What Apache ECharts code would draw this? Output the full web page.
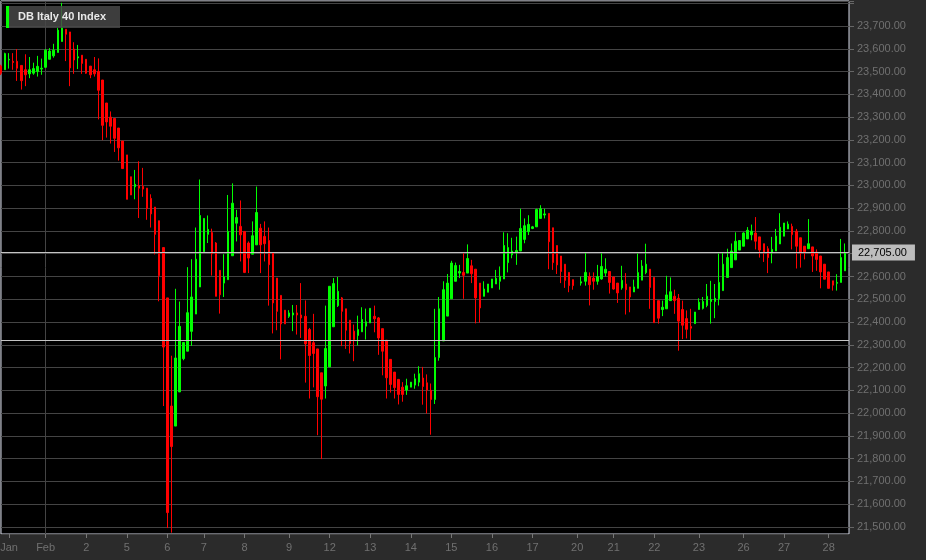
<!DOCTYPE html>
<html>
<head>
<meta charset="utf-8">
<script src="https://cdn.jsdelivr.net/npm/echarts@6/dist/echarts.min.js"></script>
<style>
html,body{margin:0;padding:0;background:#2b2b2b;}
#c{width:926px;height:560px;}
</style>
</head>
<body>
<div id="c"></div>
<script>
// ---- data (hourly candles, DB Italy 40 Index) ----
const seriesName = 'DB Italy 40 Index';
const open = [
23524,23508,23551,23545,23545,23527,23508,23490,23493,23500,23511,23519,23554,23569,23584,23632,23686,23674,23599,23560,
23572,23554,23524,23508,23501,23463,23362,23300,23294,23252,23195,23134,23038,22994,22999,22996,22988,22943,22905,22845,
22727,22506,22031,21943,22093,22239,22272,22359,22435,22554,22709,22785,22793,22747,22627,22571,22586,22691,22834,22820,
22798,22747,22698,22739,22812,22776,22758,22703,22593,22517,22452,22425,22431,22440,22431,22425,22367,22309,22282,22177,
22119,22203,22379,22472,22506,22458,22408,22360,22341,22357,22382,22396,22425,22418,22371,22320,22236,22180,22148,22114,
22101,22114,22123,22136,22154,22133,22100,22060,22244,22317,22426,22502,22579,22615,22618,22615,22647,22632,22571,22513,
22531,22550,22567,22579,22589,22661,22695,22706,22712,22763,22797,22811,22818,22855,22870,22877,22814,22736,22690,22654,
22618,22586,null,22571,22579,22600,22593,22579,22589,22615,22622,22598,22571,22550,22567,22554,22532,22548,22584,22617,
22632,22596,22494,22455,22458,22494,22513,22504,22455,22415,22380,22393,22455,22460,22473,22490,22490,22502,22538,22596,
22639,22673,22716,22733,22765,22783,22791,22774,22744,22722,22704,22712,22743,22777,22809,22820,22799,22770,22733,22722,
22730,22707,22690,22654,22620,22581,22570,22574,22625];
const close = [
23493,23579,23554,23540,23515,23460,23486,23508,23513,23523,23515,23594,23590,23594,23682,23692,23664,23516,23551,23565,
23536,23493,23486,23490,23418,23264,23279,23260,23207,23165,23074,22939,22958,23005,22988,22984,22898,22875,22785,22604,
22290,21563,21853,22242,22381,22310,22441,22510,22676,22868,22855,22807,22700,22513,22520,22598,22798,22922,22859,22783,
22618,22681,22779,22881,22739,22744,22652,22484,22447,22392,22392,22440,22440,22431,22418,22304,22253,22262,22072,22061,
22284,22557,22569,22535,22447,22364,22306,22323,22367,22411,22401,22460,22414,22330,22272,22155,22126,22112,22082,22082,
22120,22136,22151,22173,22117,22101,22060,22244,22458,22542,22571,22659,22648,22622,22605,22679,22612,22506,22462,22545,
22567,22589,22592,22601,22736,22727,22712,22714,22811,22823,22829,22818,22894,22898,22875,22753,22661,22651,22622,22583,
22560,22560,null,22577,22618,22564,22579,22600,22644,22632,22574,22545,22528,22583,22542,22510,22554,22617,22646,22654,
22552,22397,22417,22465,22519,22533,22494,22404,22386,22368,22373,22444,22487,22490,22513,22499,22504,22574,22654,22683,
22712,22755,22758,22791,22803,22799,22755,22716,22707,22683,22719,22777,22816,22835,22830,22784,22733,22704,22707,22744,
22690,22675,22620,22588,22548,22562,22574,22683,22705];
const low = [
23485,23508,23513,23508,23459,23421,23436,23471,23486,23478,23486,23516,23554,23561,23584,23632,23546,23436,23490,23511,
23490,23490,23471,23478,23290,23199,23210,23184,23147,23109,23074,22939,22958,22939,22857,22950,22849,22815,22697,22491,
22031,21495,21475,21943,22093,22232,22272,22295,22435,22554,22709,22747,22604,22513,22437,22510,22586,22691,22754,22666,
22615,22615,22698,22739,22615,22666,22472,22350,22364,22236,22392,22418,22360,22345,22330,22134,22064,22113,21903,21798,
22064,22203,22379,22466,22294,22282,22262,22228,22297,22357,22323,22396,22355,22256,22166,22064,22090,22064,22038,22050,
22080,22114,22107,22118,22037,21998,21905,22040,22230,22317,22426,22502,22579,22593,22502,22615,22571,22394,22397,22513,
22531,22550,22567,22542,22589,22618,22680,22651,22712,22746,22782,22808,22818,22855,22855,22632,22629,22611,22571,22550,
22531,22542,null,22560,22560,22473,22542,22564,22586,22600,22525,22542,22484,22542,22433,22443,22532,22548,22584,22610,
22458,22397,22393,22426,22458,22494,22436,22274,22325,22328,22320,22393,22455,22455,22465,22393,22417,22473,22538,22596,
22639,22673,22716,22733,22765,22759,22719,22683,22664,22615,22658,22712,22743,22777,22809,22719,22635,22639,22675,22722,
22620,22625,22548,22588,22548,22538,22538,22574,22625];
const high = [
23530,23583,23581,23581,23599,23527,23576,23564,23539,23569,23557,23599,23603,23622,23692,23802,23686,23674,23629,23617,
23572,23554,23524,23564,23558,23463,23362,23325,23294,23252,23195,23134,23038,23068,23106,23077,22988,22961,22905,22845,
22727,22506,22252,22546,22490,22310,22641,22676,22815,23026,22855,22868,22810,22751,22627,22698,22958,23009,22893,22934,
22798,22754,22842,22995,22831,22842,22815,22703,22593,22517,22452,22452,22475,22475,22571,22495,22374,22436,22282,22177,
22472,22557,22593,22598,22510,22458,22408,22389,22428,22465,22459,22460,22472,22422,22371,22320,22236,22180,22148,22136,
22151,22136,22173,22206,22203,22170,22130,22458,22510,22579,22611,22669,22661,22651,22702,22741,22673,22632,22571,22579,
22567,22589,22629,22644,22794,22790,22770,22775,22898,22855,22869,22822,22898,22913,22898,22877,22814,22736,22690,22654,
22618,22586,null,22600,22705,22618,22618,22651,22702,22680,22622,22598,22571,22647,22615,22554,22586,22701,22672,22744,
22632,22596,22494,22494,22603,22596,22542,22523,22494,22451,22458,22444,22504,22510,22567,22581,22567,22701,22704,22722,
22745,22794,22758,22794,22817,22828,22861,22774,22744,22733,22774,22809,22878,22835,22842,22832,22809,22770,22733,22852,
22730,22719,22690,22654,22620,22581,22610,22765,22745];
const dayLabels = ['Jan','Feb','2','5','6','7','8','9','12','13','14','15','16','17','20','21','22','23','26','27','28'];
const dayStartIndex = [2,11,21,31,41,50,60,71,81,91,101,111,121,131,142,151,161,172,183,193,204];
const monthStartLabel = 'Feb';
const lastPrice = 22705;
const refLine = 22320;
const slotCount = 210;

// ---- build ----
const cats = [];
for (let i = 0; i < slotCount; i++) cats.push('s' + i);
const ohlc = [];
for (let i = 0; i < slotCount; i++) {
  if (i < open.length && open[i] != null) ohlc.push([open[i], close[i], low[i], high[i]]);
  else ohlc.push('-');
}
const labelAt = {};
dayStartIndex.forEach((idx, k) => { labelAt[idx] = dayLabels[k]; });
const monthIdx = dayStartIndex[dayLabels.indexOf(monthStartLabel)];

function fmt(v) {
  const s = Math.round(v).toString().replace(/\B(?=(\d{3})+(?!\d))/g, ',');
  return s + '.00';
}

const chart = echarts.init(document.getElementById('c'), null, {renderer: 'canvas'});
chart.setOption({
  animation: false,
  backgroundColor: '#2b2b2b',
  textStyle: {fontFamily: 'Arial, Liberation Sans, sans-serif'},
  grid: {
    left: 1, right: 77, top: 1, bottom: 26,
    containLabel: false, outerBoundsMode: 'none',
    show: true, backgroundColor: '#000000', borderColor: '#d4d8e6', borderWidth: 1
  },
  xAxis: {
    type: 'category',
    data: cats,
    boundaryGap: false,
    axisLine: {show: false},
    axisTick: {show: true, length: 4, interval: (i) => labelAt[i] !== undefined, lineStyle: {color: '#777'}},
    axisLabel: {
      interval: (i) => labelAt[i] !== undefined,
      formatter: (v, i) => labelAt[i] || '',
      color: '#707070', fontSize: 11, margin: 8
    },
    splitLine: {show: true, interval: (i) => i === monthIdx, lineStyle: {color: '#444', width: 1}}
  },
  yAxis: {
    type: 'value',
    position: 'right',
    scale: true,
    min: 21469, max: 23810,
    splitNumber: 20,
    axisLine: {show: false},
    axisTick: {show: true, length: 5, lineStyle: {color: '#666'}},
    axisLabel: {
      color: '#707070', fontSize: 11, margin: 8,
      formatter: (v) => v > 23750 ? '' : fmt(v)
    },
    splitLine: {show: true, lineStyle: {color: '#444', width: 1}}
  },
  series: [{
    name: seriesName,
    type: 'candlestick',
    data: ohlc,
    barWidth: 2,
    itemStyle: {
      color: '#00ff00', color0: '#ff0000',
      borderColor: '#00ff00', borderColor0: '#ff0000', borderWidth: 1
    },
    markLine: {
      silent: true,
      symbol: ['none', 'none'],
      animation: false,
      data: [
        {yAxis: lastPrice, lineStyle: {color: '#c4c4c4', width: 1, type: 'solid'},
         label: {show: true, position: 'end', formatter: () => fmt(lastPrice), color: '#000',
                 backgroundColor: '#bdbdbd', padding: [3, 8, 2, 6], fontSize: 11, distance: 3}},
        {yAxis: refLine, lineStyle: {color: '#c4c4c4', width: 1, type: 'solid'}, label: {show: false}}
      ]
    }
  }],
  graphic: [
    {type: 'rect', left: 9, top: 6, shape: {width: 111, height: 22}, style: {fill: 'rgba(72,72,72,0.85)'}, z: 100},
    {type: 'rect', left: 6, top: 6, shape: {width: 3, height: 22}, style: {fill: '#00ff00'}, z: 101},
    {type: 'text', left: 18, top: 11, style: {text: seriesName, fill: '#e8e8e8', font: 'bold 11px Arial, Liberation Sans, sans-serif'}, z: 101}
  ]
});
</script>
</body>
</html>
